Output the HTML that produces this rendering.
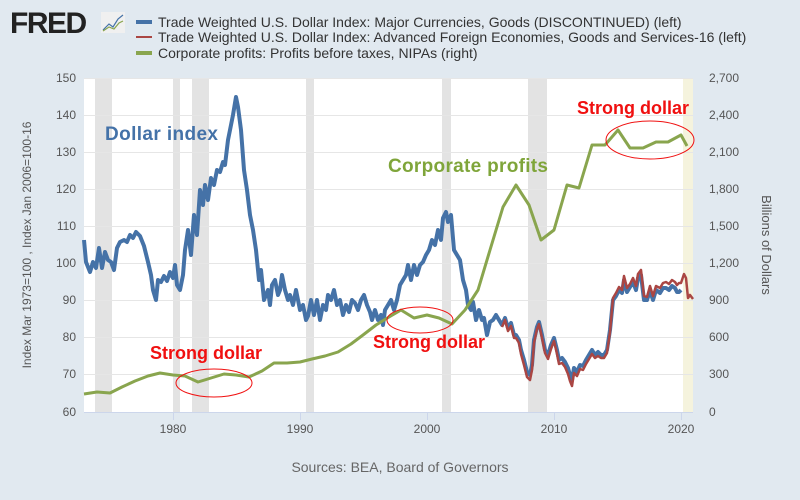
<!DOCTYPE html>
<html><head><meta charset="utf-8"><style>
body{margin:0;width:800px;height:495px;background:#e1e9f0;font-family:"Liberation Sans",sans-serif;overflow:hidden}
</style></head><body>
<svg width="800" height="495" xmlns="http://www.w3.org/2000/svg" font-family="Liberation Sans, sans-serif">
<rect width="800" height="495" fill="#e1e9f0"/>
<text x="10" y="33" font-size="30" font-weight="bold" fill="#222" letter-spacing="-1.5">FRED</text>
<rect x="101" y="12" width="24" height="21" fill="#f0f0f0"/>
<polyline points="103,30 109,24 113,27 118,19 123,15" fill="none" stroke="#4572a7" stroke-width="1.2"/>
<polyline points="103,31 109,27 114,29 119,23 123,21" fill="none" stroke="#89a54e" stroke-width="1.2"/>
<g font-size="14" fill="#333">
<rect x="136" y="20" width="16" height="4" fill="#4572a7"/><text x="158" y="27">Trade Weighted U.S. Dollar Index: Major Currencies, Goods (DISCONTINUED) (left)</text>
<rect x="136" y="36" width="16" height="2" fill="#aa4643"/><text x="158" y="42">Trade Weighted U.S. Dollar Index: Advanced Foreign Economies, Goods and Services-16 (left)</text>
<rect x="136" y="51" width="16" height="4" fill="#89a54e"/><text x="158" y="58">Corporate profits: Profits before taxes, NIPAs (right)</text>
</g>
<rect x="84" y="78" width="609" height="334" fill="#fff"/>
<g fill="#e3e3e3">
<rect x="95" y="78" width="17" height="334"/><rect x="173" y="78" width="7" height="334"/>
<rect x="192" y="78" width="17" height="334"/><rect x="306" y="78" width="8" height="334"/>
<rect x="442" y="78" width="9" height="334"/><rect x="528" y="78" width="19" height="334"/>
</g>
<rect x="683" y="78" width="10" height="334" fill="#f5f3dd"/>
<g stroke="#e6e6e6" stroke-width="1">
<line x1="84" x2="693" y1="78.5" y2="78.5"/><line x1="84" x2="693" y1="115.5" y2="115.5"/>
<line x1="84" x2="693" y1="152.5" y2="152.5"/><line x1="84" x2="693" y1="189.5" y2="189.5"/>
<line x1="84" x2="693" y1="226.5" y2="226.5"/><line x1="84" x2="693" y1="263.5" y2="263.5"/>
<line x1="84" x2="693" y1="300.5" y2="300.5"/><line x1="84" x2="693" y1="337.5" y2="337.5"/>
<line x1="84" x2="693" y1="374.5" y2="374.5"/>
</g>
<line x1="84" x2="693" y1="412.5" y2="412.5" stroke="#ccd6eb"/>
<g stroke="#ccd6eb"><line x1="173.5" x2="173.5" y1="412" y2="420"/><line x1="300.5" x2="300.5" y1="412" y2="420"/><line x1="427.5" x2="427.5" y1="412" y2="420"/><line x1="554.5" x2="554.5" y1="412" y2="420"/><line x1="681.5" x2="681.5" y1="412" y2="420"/></g>
<g font-size="12" fill="#555" text-anchor="end">
<text x="76" y="82">150</text><text x="76" y="119">140</text><text x="76" y="156">130</text><text x="76" y="193">120</text><text x="76" y="230">110</text><text x="76" y="267">100</text><text x="76" y="304">90</text><text x="76" y="341">80</text><text x="76" y="378">70</text><text x="76" y="416">60</text>
</g>
<g font-size="12" fill="#555" text-anchor="start">
<text x="709" y="82">2,700</text><text x="709" y="119">2,400</text><text x="709" y="156">2,100</text><text x="709" y="193">1,800</text><text x="709" y="230">1,500</text><text x="709" y="267">1,200</text><text x="709" y="304">900</text><text x="709" y="341">600</text><text x="709" y="378">300</text><text x="709" y="416">0</text>
</g>
<g font-size="12" fill="#555" text-anchor="middle">
<text x="173" y="433">1980</text><text x="300" y="433">1990</text><text x="427" y="433">2000</text><text x="554" y="433">2010</text><text x="681" y="433">2020</text>
</g>
<text transform="translate(31,245) rotate(-90)" font-size="12" fill="#555" text-anchor="middle">Index Mar 1973=100 , Index Jan 2006=100-16</text>
<text transform="translate(762,245) rotate(90)" font-size="13" fill="#555" text-anchor="middle">Billions of Dollars</text>
<text x="400" y="472" font-size="14" fill="#666" text-anchor="middle">Sources: BEA, Board of Governors</text>
<polyline fill="none" stroke="#4572a7" stroke-width="4" stroke-linejoin="round" points="84,240 86,262 90,272 93,262 96,268 99,248 102,268 105,252 108,260 111,262 114,270 117,248 120,242 124,240 127,242 130,235 133,238 136,232 140,236 144,246 148,262 151,275 153,290 156,300 158,280 161,282 164,276 167,281 170,272 173,278 175,265 177,285 180,290 183,275 185,250 188,230 191,255 194,215 197,235 200,190 203,205 205,185 208,200 211,178 214,185 217,170 220,172 223,162 225,165 228,140 231,125 233,115 236,97 238,107 241,130 244,170 247,190 250,215 253,230 256,250 259,280 261,270 264,300 266,295 268,290 270,305 272,285 275,280 278,295 280,290 282,275 285,290 288,300 290,295 293,305 296,290 298,300 300,310 303,305 306,320 308,316 311,300 314,315 317,300 320,320 323,305 326,310 328,295 331,300 334,290 337,305 340,300 343,315 346,305 349,312 352,300 355,303 358,310 361,300 364,295 367,305 370,312 372,320 375,310 378,320 381,315 383,325 385,310 388,305 391,300 394,310 397,300 400,285 403,280 406,275 408,265 411,280 414,265 417,275 420,265 423,262 426,255 429,250 432,240 435,245 438,230 441,240 443,218 446,212 448,222 451,215 454,250 457,255 460,260 463,280 466,290 468,305 471,310 473,302 476,320 479,310 482,320 484,318 487,335 490,322 493,320 496,315 499,320 502,325 505,318 508,328 511,323 514,335 516,335 519,340 521,350 524,360 527,372 530,375 532,365 534,340 537,327 539,322 542,335 545,350 548,355 551,345 554,338 557,350 559,360 562,358 565,362 568,368 570,375 572,380 574,368 577,372 580,365 583,366 586,360 589,355 592,350 595,355 598,352 601,355 604,355 607,350 610,330 613,300 616,296 619,290 622,293 624,280 627,292 630,287 633,282 636,290 638,278 641,275 644,300 647,300 650,290 653,300 656,290 660,293 663,288 666,288 669,290 672,286 675,288 677,292 679,292 681,290"/>
<polyline fill="none" stroke="#aa4643" stroke-width="2.5" stroke-linejoin="round" points="502,327 505,320 508,331 511,326 514,338 516,338 519,343 521,354 524,365 527,377 530,380 532,370 534,343 537,329 539,324 542,338 545,353 548,359 551,349 554,341 557,354 559,364 562,363 565,367 568,374 570,381 572,386 574,373 577,376 580,369 583,370 586,364 589,359 592,354 595,358 598,356 601,358 604,358 607,353 610,332 613,298 616,293 619,287 622,290 624,276 627,288 630,284 633,278 636,286 638,274 641,270 644,296 647,297 650,286 653,296 656,286 660,288 663,283 666,282 669,284 672,280 675,282 677,285 679,283 681,283 684,274 686,278 688,298 690,295 693,299"/>
<polyline fill="none" stroke="#89a54e" stroke-width="3" stroke-linejoin="round" points="84,394 97,392 110,393 122,387 135,381 148,376 160,373 173,375 185,376 198,382 211,378 224,374 236,375 249,377 262,371 274,363 287,363 300,362 312,359 325,356 338,352 351,344 363,335 376,325 389,317 401,310 414,318 427,315 439,318 452,324 465,310 478,290 490,250 503,207 516,185 529,205 541,240 554,230 567,185 579,188 592,145 605,145 618,130 630,148 643,148 656,142 668,142 681,135 687,146"/>
<g font-weight="bold" font-size="18">
<text x="105" y="140" fill="#4472a8" font-size="19" textLength="113">Dollar index</text>
<text x="388" y="172" fill="#7fa53a" font-size="19" textLength="160">Corporate profits</text>
<text x="150" y="359" fill="#f01010">Strong dollar</text>
<text x="373" y="348" fill="#f01010">Strong dollar</text>
<text x="577" y="114" fill="#f01010">Strong dollar</text>
</g>
<g fill="none" stroke="#f01010" stroke-width="1">
<ellipse cx="214" cy="383" rx="38" ry="14"/><ellipse cx="420" cy="320" rx="33" ry="13"/><ellipse cx="650" cy="140" rx="44" ry="19"/>
</g>
</svg>
</body></html>
